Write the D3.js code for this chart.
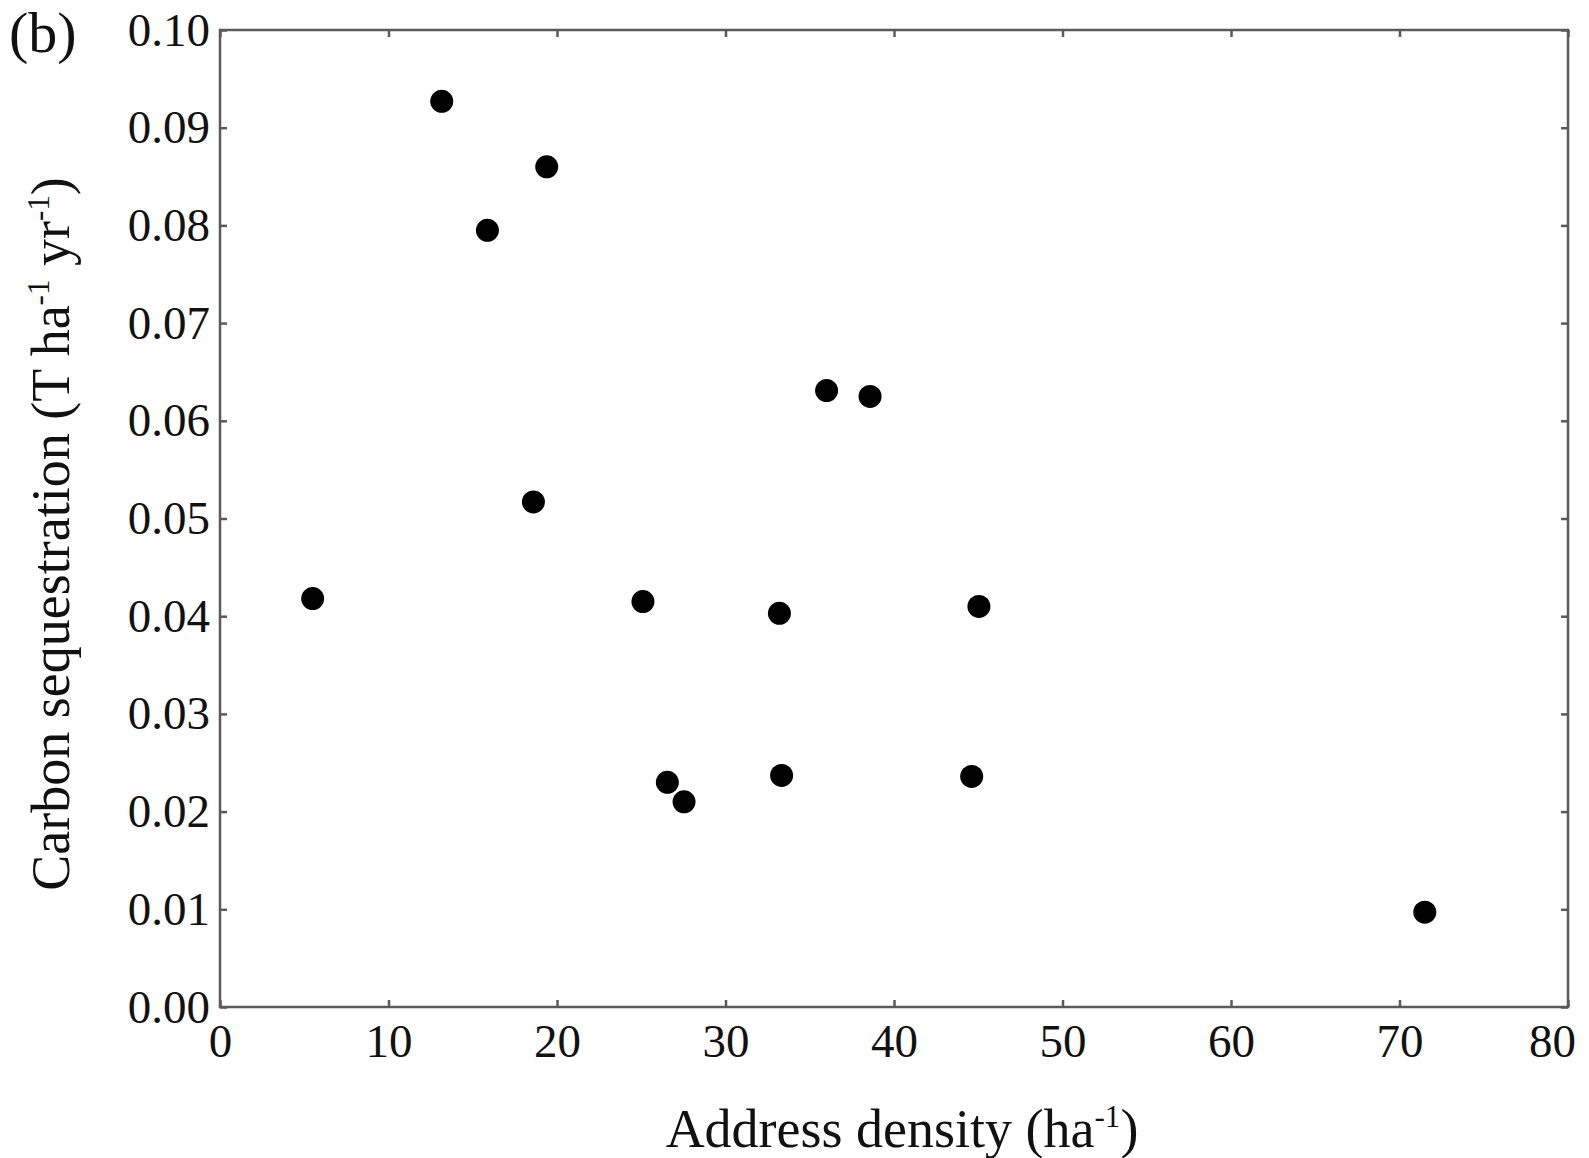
<!DOCTYPE html>
<html>
<head>
<meta charset="utf-8">
<script src="https://cdn.jsdelivr.net/npm/d3@7"></script>
<style>
  html, body { margin: 0; padding: 0; background: #fff; }
  svg { display: block; }
  text { font-family: "Liberation Serif", "DejaVu Serif", serif; fill: #111; }
</style>
</head>
<body>
<svg id="chart" width="1589" height="1158"></svg>
<script>
// Data
const addressDensity = [5.5, 13.16, 15.87, 19.39, 18.6, 25.1, 26.55, 27.54, 33.2, 33.33, 36.0, 38.58, 44.61, 45.04, 71.5];
const carbonSeq      = [0.0418, 0.0927, 0.0795, 0.0860, 0.0517, 0.0415, 0.0230, 0.0210, 0.0403, 0.0237, 0.0631, 0.0625, 0.0236, 0.0410, 0.0097];
const xTicks = [0, 10, 20, 30, 40, 50, 60, 70, 80];
const yTicks = [0, 0.01, 0.02, 0.03, 0.04, 0.05, 0.06, 0.07, 0.08, 0.09, 0.10];

const svg = d3.select("#chart");
const L = 220, R = 1568, T = 30, B = 1007;

const x = d3.scaleLinear().domain([0, 80]).range([L, R]);
const y = d3.scaleLinear().domain([0, 0.10]).range([B, T]);

const frameColor = "#5a5a5a";
const tickLen = 7;

function styleAxis(g, hideLabels) {
  g.select(".domain").remove();
  g.selectAll(".tick line").attr("stroke", frameColor).attr("stroke-width", 2.5);
  g.selectAll(".tick text")
    .style("font-family", "'Liberation Serif', serif")
    .style("font-size", "47px")
    .attr("fill", "#111");
  if (hideLabels) g.selectAll(".tick text").remove();
}

// bottom axis
svg.append("g").attr("transform", `translate(0,${B})`)
  .call(d3.axisBottom(x).tickValues(xTicks).tickSize(-tickLen).tickPadding(17).tickFormat(d3.format("d")))
  .call(g => styleAxis(g, false))
  .call(g => g.selectAll(".tick text").attr("dy", "0.71em"))
  .call(g => g.selectAll(".tick text").filter(d => d === 80).attr("dx", -16));
// top axis
svg.append("g").attr("transform", `translate(0,${T})`)
  .call(d3.axisTop(x).tickValues(xTicks).tickSize(-tickLen))
  .call(g => styleAxis(g, true));
// left axis
svg.append("g").attr("transform", `translate(${L},0)`)
  .call(d3.axisLeft(y).tickValues(yTicks).tickSize(-tickLen).tickPadding(10).tickFormat(d3.format(".2f")))
  .call(g => styleAxis(g, false));
// right axis
svg.append("g").attr("transform", `translate(${R},0)`)
  .call(d3.axisRight(y).tickValues(yTicks).tickSize(-tickLen))
  .call(g => styleAxis(g, true));

// frame
svg.append("rect")
  .attr("x", L).attr("y", T)
  .attr("width", R - L).attr("height", B - T)
  .attr("fill", "none").attr("stroke", frameColor).attr("stroke-width", 2.5);

// points
svg.append("g").selectAll("circle")
  .data(addressDensity.map((d, i) => ({ x: d, y: carbonSeq[i] })))
  .join("circle")
  .attr("cx", d => x(d.x))
  .attr("cy", d => y(d.y))
  .attr("r", 11.5)
  .attr("fill", "#000");

// x axis title
const xt = svg.append("text")
  .attr("x", (L + R) / 2 + 8).attr("y", 1147)
  .attr("text-anchor", "middle")
  .style("font-size", "54px");
xt.append("tspan").text("Address density (ha");
xt.append("tspan").text("-1").style("font-size", "31px").attr("dy", "-20");
xt.append("tspan").text(")").attr("dy", "20");

// y axis title
const yt = svg.append("text")
  .attr("transform", `translate(69,${534}) rotate(-90)`)
  .attr("text-anchor", "middle")
  .style("font-size", "54px");
yt.append("tspan").text("Carbon sequestration (T ha");
yt.append("tspan").text("-1").style("font-size", "31px").attr("dy", "-20");
yt.append("tspan").text(" yr").attr("dy", "20");
yt.append("tspan").text("-1").style("font-size", "31px").attr("dy", "-20");
yt.append("tspan").text(")").attr("dy", "20");

// panel label
svg.append("text")
  .attr("x", 9).attr("y", 52)
  .style("font-size", "58px")
  .text("(b)");
</script>
</body>
</html>
